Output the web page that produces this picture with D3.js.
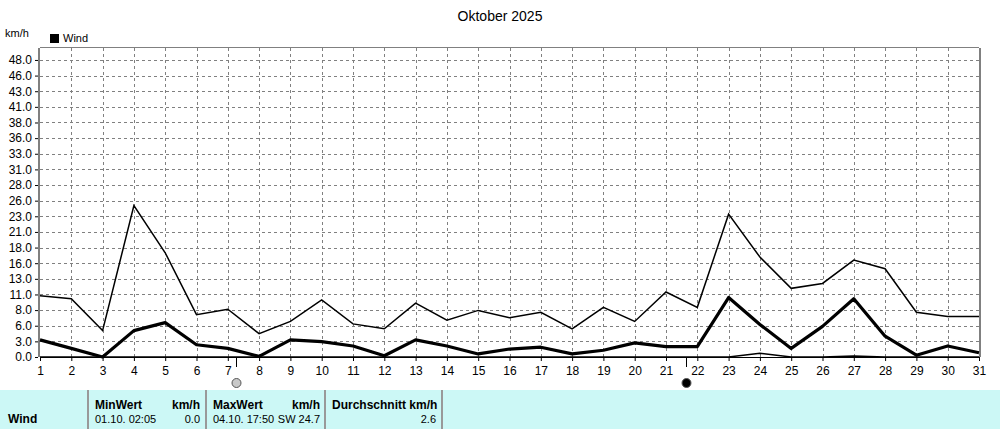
<!DOCTYPE html><html><head><meta charset="utf-8">
<script src="https://cdn.jsdelivr.net/npm/d3@7"></script>
<style>body{margin:0;background:#fff}svg{display:block;font-family:"Liberation Sans",Arial,sans-serif}</style>
</head><body><svg id="c" width="1000" height="429"></svg>
<script>
const days = d3.range(1,32);
const windMax = [10.0,9.5,4.3,24.7,17.0,6.9,7.8,3.8,5.8,9.3,5.4,4.6,8.8,6.0,7.6,6.4,7.3,4.6,8.1,5.8,10.6,8.1,23.3,16.3,11.2,12.0,15.8,14.4,7.3,6.6,6.6];
const windAvg = [2.8,1.4,0,4.3,5.6,2.0,1.4,0.1,2.8,2.5,1.8,0.2,2.8,1.8,0.5,1.3,1.6,0.5,1.1,2.3,1.7,1.7,9.7,5.3,1.4,5.0,9.5,3.4,0.3,1.8,0.7];
const windMin = [0,0,0,0,0,0,0,0,0,0,0,0,0,0,0,0,0,0,0,0,0,0,0,0.6,0,0,0.15,0,0,0,0];
const yTicks = [0,2.55,5.1,7.65,10.2,12.75,15.3,17.85,20.4,22.95,25.5,28.05,30.6,33.15,35.7,38.25,40.8,43.35,45.9,48.45];
const yLabels = ["0.0","3.0","6.0","8.0","11.0","13.0","16.0","18.0","21.0","23.0","26.0","28.0","31.0","33.0","36.0","38.0","41.0","43.0","46.0","48.0"];
const moons = [{d:7.25,full:false},{d:21.65,full:true}];
const tableCols = [["MinWert","km/h","01.10.  02:05","0.0"],["MaxWert","km/h","04.10.  17:50","SW 24.7"],["Durchschnitt km/h","","","2.6"]];

const svg=d3.select("#c");
const L=40,R=979,T=48,B=357;
const x=d3.scaleLinear().domain([1,31]).range([L,R]);
const y=d3.scaleLinear().domain([0,50.4]).range([B,T]);
const g=svg.append("g");
g.selectAll(".hg").data(yTicks.slice(1)).join("line").attr("x1",L).attr("x2",R).attr("y1",d=>Math.round(y(d))+.5).attr("y2",d=>Math.round(y(d))+.5).attr("stroke","#808080").attr("stroke-dasharray","3,3");
g.selectAll(".vg").data(days.slice(1,30)).join("line").attr("y1",T).attr("y2",B).attr("x1",d=>Math.round(x(d))+.5).attr("x2",d=>Math.round(x(d))+.5).attr("stroke","#808080").attr("stroke-dasharray","3,3");
svg.append("line").attr("x1",L-1).attr("x2",L-1).attr("y1",T).attr("y2",B).attr("stroke","#808080").attr("stroke-width",2);
svg.append("line").attr("x1",R+1).attr("x2",R+1).attr("y1",T).attr("y2",B).attr("stroke","#808080").attr("stroke-width",2);
svg.append("line").attr("x1",L).attr("x2",R).attr("y1",T-0.5).attr("y2",T-0.5).attr("stroke","#808080");
svg.append("line").attr("x1",L).attr("x2",R).attr("y1",B+.5).attr("y2",B+.5).attr("stroke","#000");
const ya=svg.append("g").attr("transform",`translate(${L-2},0)`).call(d3.axisLeft(y).tickValues(yTicks).tickFormat((d,i)=>yLabels[i]).tickSize(3));
ya.select(".domain").remove();
ya.selectAll("text").attr("font-size",12).attr("fill","#000");
const xa=svg.append("g").attr("transform",`translate(0,${B})`).call(d3.axisBottom(x).tickValues(days).tickFormat(d3.format("d")).tickSize(4));
xa.select(".domain").remove();
xa.selectAll("text").attr("font-size",12).attr("fill","#000").attr("dy","0.9em");
const line=arr=>d3.line().x((d,i)=>x(days[i])).y(d=>y(d))(arr);
svg.append("path").attr("d",line(windMax)).attr("fill","none").attr("stroke","#000").attr("stroke-width",1.5);
svg.append("path").attr("d",line(windMin)).attr("fill","none").attr("stroke","#000").attr("stroke-width",1.5);
svg.append("path").attr("d",line(windAvg)).attr("fill","none").attr("stroke","#000").attr("stroke-width",3.2).attr("stroke-linejoin","round");
moons.forEach(m=>{const mx=Math.round(x(m.d));
svg.append("line").attr("x1",mx+.5).attr("x2",mx+.5).attr("y1",B).attr("y2",B+10).attr("stroke","#000");
svg.append("circle").attr("cx",mx+.5).attr("cy",383).attr("r",4.5).attr("fill",m.full?"#000":"#c8c8c8").attr("stroke","#555");});
svg.append("text").attr("x",500).attr("y",21).attr("text-anchor","middle").attr("font-size",14).text("Oktober 2025");
svg.append("text").attr("x",5).attr("y",37).attr("font-size",11).text("km/h");
svg.append("rect").attr("x",50).attr("y",34).attr("width",9).attr("height",9).attr("fill","#000");
svg.append("text").attr("x",63).attr("y",42).attr("font-size",11).text("Wind");
svg.append("rect").attr("x",0).attr("y",390).attr("width",1000).attr("height",39).attr("fill","#ccf8f6");
[88,206,325,442].forEach(v=>svg.append("line").attr("x1",v).attr("x2",v).attr("y1",390).attr("y2",429).attr("stroke","#999").attr("stroke-width",2));
svg.append("text").attr("x",8).attr("y",423).attr("font-size",12).attr("font-weight","bold").text("Wind");
const cx=[[95,200],[213,320],[332,436]];
tableCols.forEach((c,i)=>{
 svg.append("text").attr("x",cx[i][0]).attr("y",409).attr("font-size",12).attr("font-weight","bold").text(c[0]);
 if(c[1])svg.append("text").attr("x",cx[i][1]).attr("y",409).attr("text-anchor","end").attr("font-size",12).attr("font-weight","bold").text(c[1]);
 if(c[2])svg.append("text").attr("x",cx[i][0]).attr("y",423).attr("font-size",11).text(c[2]);
 svg.append("text").attr("x",cx[i][1]).attr("y",423).attr("text-anchor","end").attr("font-size",11).text(c[3]);
});
</script></body></html>
